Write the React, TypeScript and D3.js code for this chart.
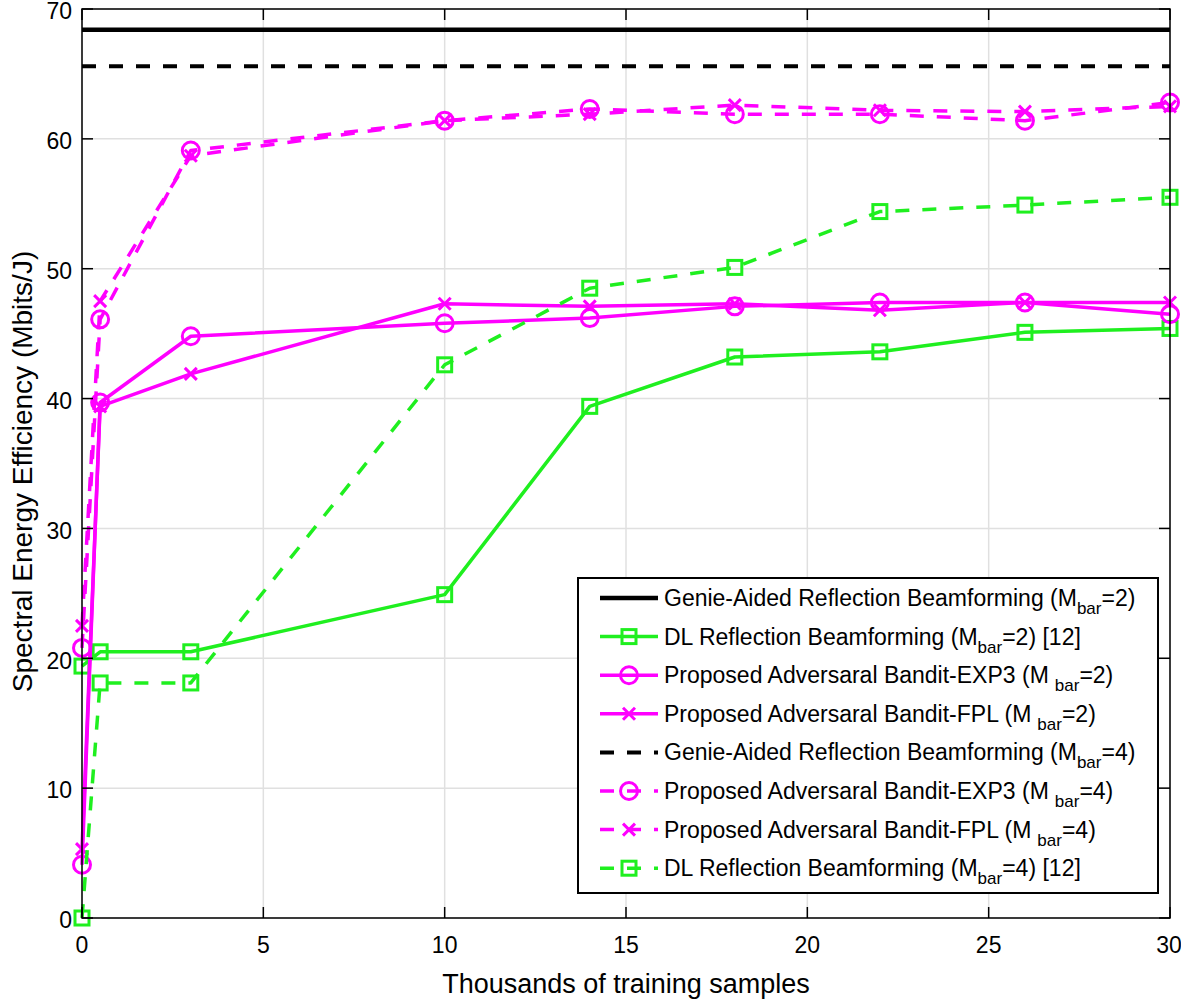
import React from 'react';
import * as d3 from 'd3';

// thousands of training samples
const samples = [0, 0.5, 3, 10, 14, 18, 22, 26, 30];

// spectral energy efficiency (Mbits/J)
const genieM2 = [68.4, 68.4, 68.4, 68.4, 68.4, 68.4, 68.4, 68.4, 68.4];
const dlM2 = [19.4, 20.5, 20.5, 24.9, 39.4, 43.2, 43.6, 45.1, 45.4];
const exp3M2 = [4.1, 39.7, 44.8, 45.8, 46.2, 47.1, 47.4, 47.4, 46.5];
const fplM2 = [5.3, 39.4, 41.9, 47.3, 47.1, 47.3, 46.8, 47.4, 47.4];
const genieM4 = [65.6, 65.6, 65.6, 65.6, 65.6, 65.6, 65.6, 65.6, 65.6];
const exp3M4 = [20.8, 46.1, 59.1, 61.4, 62.3, 61.9, 61.9, 61.4, 62.8];
const fplM4 = [22.5, 47.5, 58.7, 61.4, 61.9, 62.6, 62.2, 62.1, 62.5];
const dlM4 = [0, 18.1, 18.1, 42.6, 48.5, 50.1, 54.4, 54.9, 55.5];

const xTicks = [0, 5, 10, 15, 20, 25, 30];
const yTicks = [0, 10, 20, 30, 40, 50, 60, 70];

const GREEN = '#1fef1f';
const MAGENTA = '#ff00ff';
const DASH = '14,13';
const FONT = "'Liberation Sans', Arial, Helvetica, sans-serif";

// legend order == draw order
const series = [
  { pre: 'Genie-Aided Reflection Beamforming (M', post: '=2)', gap: false, values: genieM2, color: '#000', dash: null, marker: null, width: 4.5 },
  { pre: 'DL Reflection Beamforming (M', post: '=2) [12]', gap: false, values: dlM2, color: GREEN, dash: null, marker: 'square', width: 3.5 },
  { pre: 'Proposed Adversaral Bandit-EXP3 (M', post: '=2)', gap: true, values: exp3M2, color: MAGENTA, dash: null, marker: 'circle', width: 3.5 },
  { pre: 'Proposed Adversaral Bandit-FPL (M', post: '=2)', gap: true, values: fplM2, color: MAGENTA, dash: null, marker: 'cross', width: 3.5 },
  { pre: 'Genie-Aided Reflection Beamforming (M', post: '=4)', gap: false, values: genieM4, color: '#000', dash: DASH, marker: null, width: 4 },
  { pre: 'Proposed Adversaral Bandit-EXP3 (M', post: '=4)', gap: true, values: exp3M4, color: MAGENTA, dash: DASH, marker: 'circle', width: 3.5 },
  { pre: 'Proposed Adversaral Bandit-FPL (M', post: '=4)', gap: true, values: fplM4, color: MAGENTA, dash: DASH, marker: 'cross', width: 3.5 },
  { pre: 'DL Reflection Beamforming (M', post: '=4) [12]', gap: false, values: dlM4, color: GREEN, dash: DASH, marker: 'square', width: 3.5 },
];

function Marker({ type, cx, cy, color }) {
  if (type === 'square') {
    return <rect x={cx - 7} y={cy - 7} width={14} height={14} fill="none" stroke={color} strokeWidth={3} />;
  }
  if (type === 'circle') {
    return <circle cx={cx} cy={cy} r={8.5} fill="none" stroke={color} strokeWidth={3} />;
  }
  if (type === 'cross') {
    return (
      <path d={`M${cx - 6},${cy - 6}L${cx + 6},${cy + 6}M${cx - 6},${cy + 6}L${cx + 6},${cy - 6}`}
        stroke={color} strokeWidth={3} fill="none" />
    );
  }
  return null;
}

export default function App() {
  const W = 1181, H = 1005;
  const left = 82, right = 1170, top = 9, bottom = 918;

  const x = d3.scaleLinear().domain([0, 30]).range([left, right]);
  const y = d3.scaleLinear().domain([0, 70]).range([bottom, top]);

  const line = d3.line<number>()
    .x((d, i) => x(samples[i]))
    .y((d) => y(d));

  // legend geometry
  const lgX = 578, lgY = 578, lgW = 580, lgH = 315;
  const rowY = (i) => lgY + 20 + i * 38.6;

  return (
    <svg width={W} height={H} style={{ position: 'absolute', left: 0, top: 0, background: '#fff' }}
      fontFamily={FONT}>
      <rect x={0} y={0} width={W} height={H} fill="#fff" />

      {/* grid */}
      {xTicks.map((t) => (
        <line key={'gx' + t} x1={x(t)} x2={x(t)} y1={top} y2={bottom} stroke="#e0e0e0" strokeWidth={1.5} />
      ))}
      {yTicks.map((t) => (
        <line key={'gy' + t} x1={left} x2={right} y1={y(t)} y2={y(t)} stroke="#e0e0e0" strokeWidth={1.5} />
      ))}

      {/* data */}
      {series.map((s, k) => (
        <g key={'s' + k}>
          <path d={line(s.values)} fill="none" stroke={s.color} strokeWidth={s.width}
            strokeDasharray={s.dash || undefined} strokeLinejoin="round" />
          {s.marker && s.values.map((v, i) => (
            <Marker key={i} type={s.marker} cx={x(samples[i])} cy={y(v)} color={s.color} />
          ))}
        </g>
      ))}

      {/* box and ticks */}
      <rect x={left} y={top} width={right - left} height={bottom - top} fill="none" stroke="#000" strokeWidth={1.5} />
      {xTicks.map((t) => (
        <g key={'tx' + t}>
          <line x1={x(t)} x2={x(t)} y1={bottom} y2={bottom - 11} stroke="#000" strokeWidth={1.5} />
          <line x1={x(t)} x2={x(t)} y1={top} y2={top + 11} stroke="#000" strokeWidth={1.5} />
          <text x={t === 30 ? x(t) - 1 : x(t)} y={953} textAnchor="middle" fontSize={23}>{t}</text>
        </g>
      ))}
      {yTicks.map((t) => (
        <g key={'ty' + t}>
          <line x1={left} x2={left + 11} y1={y(t)} y2={y(t)} stroke="#000" strokeWidth={1.5} />
          <line x1={right} x2={right - 11} y1={y(t)} y2={y(t)} stroke="#000" strokeWidth={1.5} />
          <text x={72} y={y(t)} dy="0.45em" textAnchor="end" fontSize={23}>{t}</text>
        </g>
      ))}

      {/* axis labels */}
      <text x={(left + right) / 2} y={993} textAnchor="middle" fontSize={27}>Thousands of training samples</text>
      <text transform={`translate(32,${(top + bottom) / 2 + 8}) rotate(-90)`} textAnchor="middle" fontSize={28}>
        Spectral Energy Efficiency (Mbits/J)
      </text>

      {/* legend */}
      <rect x={lgX} y={lgY} width={lgW} height={lgH} fill="#fff" stroke="#000" strokeWidth={2} />
      {series.map((s, i) => {
        const cy = rowY(i);
        return (
          <g key={'lg' + i}>
            <line x1={600} x2={658} y1={cy} y2={cy} stroke={s.color} strokeWidth={s.width}
              strokeDasharray={s.dash || undefined} />
            {s.marker && <Marker type={s.marker} cx={629} cy={cy} color={s.color} />}
            <text x={664} y={cy + 8} fontSize={23}>
              {s.pre}
              <tspan fontSize={17} dx={s.gap ? 6 : 0} dy={8}>bar</tspan>
              <tspan dy={-8}>{s.post}</tspan>
            </text>
          </g>
        );
      })}
    </svg>
  );
}
